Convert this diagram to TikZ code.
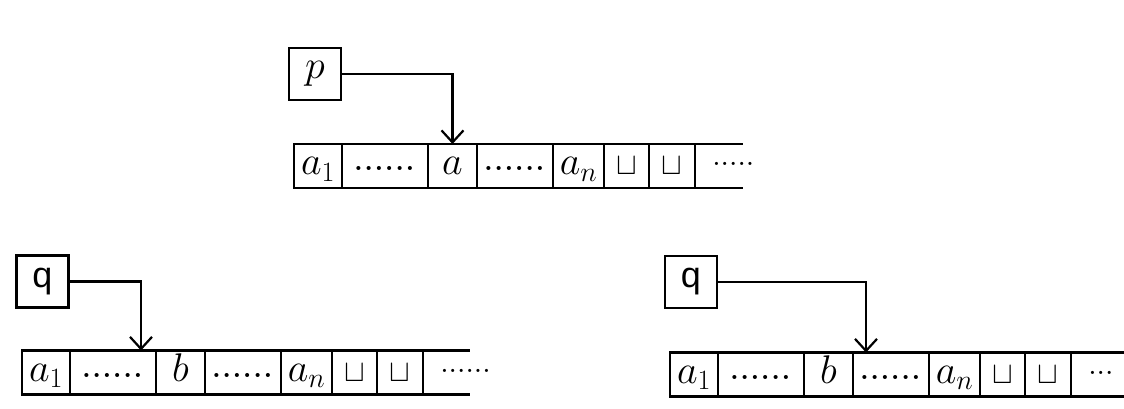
\RequirePackage{fix-cm}
\documentclass[tikz,border=0pt]{standalone}
\usepackage{fontspec}
\newfontfamily\statefont{Liberation Sans}
\usetikzlibrary{positioning,arrows.meta}

\tikzset{
  cell/.style={draw,outer sep=0pt,inner sep=0pt,minimum height=44pt,
    text height=31pt,text depth=13pt,font=\fontsize{40}{40}\selectfont},
  statebox/.style={draw,outer sep=0pt,inner sep=0pt,minimum width=52pt,
    minimum height=52pt,font=\fontsize{36}{36}\selectfont\statefont},
  head/.style={-{Straight Barb[length=12pt,width=22pt]}},
}
\newcommand\dotrow[2]{\raisebox{4pt}{\fontsize{#1}{#1}\selectfont\bfseries
  \foreach \i in {1,...,#2}{.\hspace{1.5pt}}}}
\newcommand\blank{{\fontsize{31}{31}\selectfont$\sqcup$}}
% tape: name, west point, symbol under the head cell, length of open end, dots at the end
\newcommand\drawtape[5]{%
  \node[cell,minimum width=48pt,anchor=west] (#1c1) at (#2) {$a_1$};
  \node[cell,minimum width=86pt,right=0pt of #1c1] (#1c2) {\dotrow{28}{6}};
  \node[cell,minimum width=49pt,right=0pt of #1c2] (#1c3) {$#3$};
  \node[cell,minimum width=76pt,right=0pt of #1c3] (#1c4) {\dotrow{28}{6}};
  \node[cell,minimum width=51pt,right=0pt of #1c4] (#1c5) {$a_n$};
  \node[cell,minimum width=45pt,right=0pt of #1c5] (#1c6) {\blank};
  \node[cell,minimum width=46pt,right=0pt of #1c6] (#1c7) {\blank};
  \draw (#1c7.north east) -- ++(#4,0) (#1c7.south east) -- ++(#4,0);
  \node[anchor=west,inner sep=0pt] (#1tail) at ([xshift=17pt]#1c7.east) {\dotrow{22}{#5}};
}

\begin{document}
\begin{tikzpicture}[x=1pt,y=-1pt,line width=2.2pt]
  \useasboundingbox (0,0) rectangle (1124,409);
  % before the step
  \node[statebox,font=\fontsize{40}{40}\selectfont] (p) at (315,74) {$p$};
  \drawtape{top}{294,166}{a}{48}{5}
  \draw[head] (p.east) -| (topc3.north);
  % head moved left
  \node[statebox] (ql) at (42.5,281.5) {q};
  \drawtape{bl}{22,372.5}{b}{47}{6}
  \draw[head] (ql.east) -| ([xshift=-15pt]blc2.north east);
  % head moved right
  \node[statebox] (qr) at (691,282) {q};
  \draw ([xshift=10pt]qr.south west) -- (qr.south west) -- (qr.north west)
    -- (qr.north east) -- (qr.south east) -- ++(-10,0);
  \drawtape{br}{670,374.5}{b}{53}{3}
  \draw[head] (qr.east) -| ([xshift=13pt]brc4.north west);
\end{tikzpicture}
\end{document}
